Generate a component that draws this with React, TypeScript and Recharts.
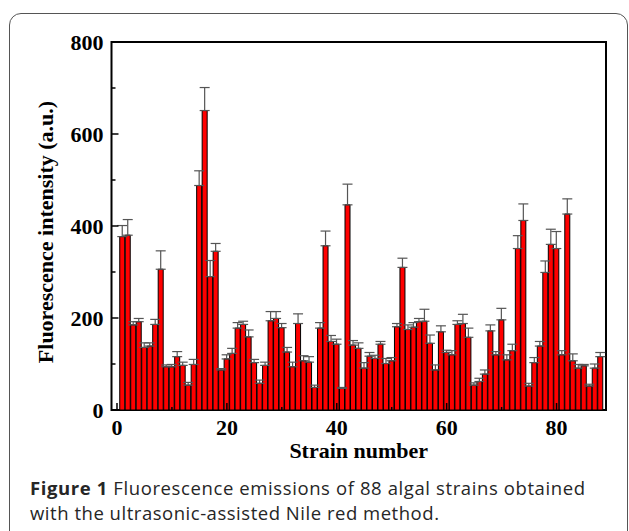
import React from 'react';
import { BarChart, Bar, XAxis, YAxis, ErrorBar, ReferenceArea } from 'recharts';

const strains = [
  1, 2, 3, 4, 5, 6, 7, 8, 9, 10, 11, 12, 13, 14, 15, 16, 17, 18, 19, 20, 21, 22,
  23, 24, 25, 26, 27, 28, 29, 30, 31, 32, 33, 34, 35, 36, 37, 38, 39, 40, 41, 42, 43, 44,
  45, 46, 47, 48, 49, 50, 51, 52, 53, 54, 55, 56, 57, 58, 59, 60, 61, 62, 63, 64, 65, 66,
  67, 68, 69, 70, 71, 72, 73, 74, 75, 76, 77, 78, 79, 80, 81, 82, 83, 84, 85, 86, 87, 88,
];

const intensity = [
  377, 380, 185, 192, 136, 139, 186, 306, 94, 94, 116, 97, 54, 99, 488, 651, 290, 345, 87, 111, 123, 178,
  186, 159, 103, 58, 97, 194, 199, 179, 126, 94, 188, 107, 104, 49, 178, 357, 149, 143, 47, 446, 141, 134,
  91, 117, 112, 143, 101, 107, 181, 310, 175, 180, 192, 193, 145, 87, 170, 125, 120, 186, 188, 158, 54, 62,
  78, 172, 120, 196, 109, 129, 351, 412, 52, 103, 139, 299, 360, 351, 120, 426, 107, 91, 96, 52, 91, 116,
];

const errorUpper = [
  24, 34, 7, 7, 10, 7, 11, 40, 4, 5, 11, 7, 6, 11, 32, 50, 35, 17, 3, 9, 11, 12,
  7, 15, 7, 7, 7, 20, 15, 9, 10, 10, 21, 11, 12, 5, 12, 32, 13, 11, 2, 45, 10, 12,
  12, 8, 7, 6, 11, 7, 7, 20, 10, 10, 7, 26, 18, 11, 13, 5, 9, 8, 20, 20, 5, 7,
  9, 13, 7, 25, 11, 14, 28, 36, 6, 11, 10, 25, 33, 37, 9, 33, 15, 8, 3, 4, 9, 9,
];

const xTicks = [0, 10, 20, 30, 40, 50, 60, 70, 80];
const xLabeled = [0, 20, 40, 60, 80];
const yTicks = [0, 100, 200, 300, 400, 500, 600, 700, 800];
const yLabeled = [0, 200, 400, 600, 800];

const data = strains.map((s, i) => ({
  strain: s,
  value: intensity[i],
  err: [0, errorUpper[i]],
}));

const SERIF = '"Liberation Serif", "Times New Roman", serif';
const SANS = '"Open Sans", "Noto Sans", sans-serif';

const XTick = (props: any) => {
  const { x, y, payload } = props;
  const v = payload.value;
  const major = xLabeled.includes(v);
  return (
    <g>
      <line x1={x} x2={x} y1={y} y2={y - (major ? 7 : 3)} stroke="#000" strokeWidth={1.5} />
      {major && (
        <text x={x} y={y + 25} textAnchor="middle" fontFamily={SERIF} fontWeight="bold" fontSize={22} fill="#000">
          {v}
        </text>
      )}
    </g>
  );
};

const YTick = (props: any) => {
  const { x, y, payload } = props;
  const v = payload.value;
  const major = yLabeled.includes(v);
  return (
    <g>
      <line x1={x} x2={x + (major ? 7 : 4)} y1={y} y2={y} stroke="#000" strokeWidth={1.5} />
      {major && (
        <text x={x - 8} y={y + 7.5} textAnchor="end" fontFamily={SERIF} fontWeight="bold" fontSize={22} fill="#000">
          {v}
        </text>
      )}
    </g>
  );
};

const XTitle = (props: any) => {
  const vb = props.viewBox || {};
  return (
    <text x={vb.x + vb.width / 2} y={vb.y + 48} textAnchor="middle" fontFamily={SERIF} fontWeight="bold" fontSize={22} fill="#000">
      Strain number
    </text>
  );
};

const YTitle = (props: any) => {
  const vb = props.viewBox || {};
  const cx = 53;
  const cy = vb.y + vb.height / 2 + 6;
  return (
    <text x={cx} y={cy} transform={`rotate(-90, ${cx}, ${cy})`} textAnchor="middle" fontFamily={SERIF} fontWeight="bold" fontSize={22} fill="#000">
      Fluorescence intensity (a.u.)
    </text>
  );
};

export default function App() {
  return (
    <div style={{ position: 'absolute', left: 0, top: 0, width: 629, height: 531, overflow: 'hidden', background: '#fff' }}>
      <div
        style={{
          position: 'absolute',
          left: 9,
          top: 13,
          width: 619,
          height: 560,
          boxSizing: 'border-box',
          border: '1.5px solid #555',
          borderRadius: 12,
        }}
      />
      <div style={{ position: 'absolute', left: 0, top: 0 }}>
        <BarChart
          width={629}
          height={480}
          data={data}
          margin={{ top: 42, right: 23, bottom: 0, left: 0 }}
          barCategoryGap={0}
          barGap={0}
        >
          <XAxis
            dataKey="strain"
            type="number"
            domain={[-1, 89]}
            ticks={xTicks}
            interval={0}
            height={70}
            axisLine={false}
            tickLine={false}
            tickSize={0}
            tickMargin={0}
            tick={<XTick />}
            label={<XTitle />}
          />
          <YAxis
            type="number"
            domain={[0, 800]}
            ticks={yTicks}
            interval={0}
            width={111.5}
            axisLine={false}
            tickLine={false}
            tickSize={0}
            tickMargin={0}
            tick={<YTick />}
            label={<YTitle />}
          />
          <Bar dataKey="value" fill="#ff0000" stroke="#000" strokeWidth={1} isAnimationActive={false}>
            <ErrorBar dataKey="err" width={5} stroke="#555" strokeWidth={1.2} direction="y" />
          </Bar>
          <ReferenceArea x1={-1} x2={89} y1={0} y2={800} fill="none" stroke="#000" strokeWidth={2} ifOverflow="visible" />
        </BarChart>
      </div>
      <svg width={629} height={531} style={{ position: 'absolute', left: 0, top: 0, pointerEvents: 'none' }}>
        <text x={30} y={495} fontFamily={SANS} fontSize={18.5} fill="#262626" textLength={555} lengthAdjust="spacing">
          <tspan fontWeight="bold">Figure 1</tspan> Fluorescence emissions of 88 algal strains obtained
        </text>
        <text x={30} y={519.5} fontFamily={SANS} fontSize={18.5} fill="#262626" textLength={409} lengthAdjust="spacing">
          with the ultrasonic-assisted Nile red method.
        </text>
      </svg>
    </div>
  );
}
